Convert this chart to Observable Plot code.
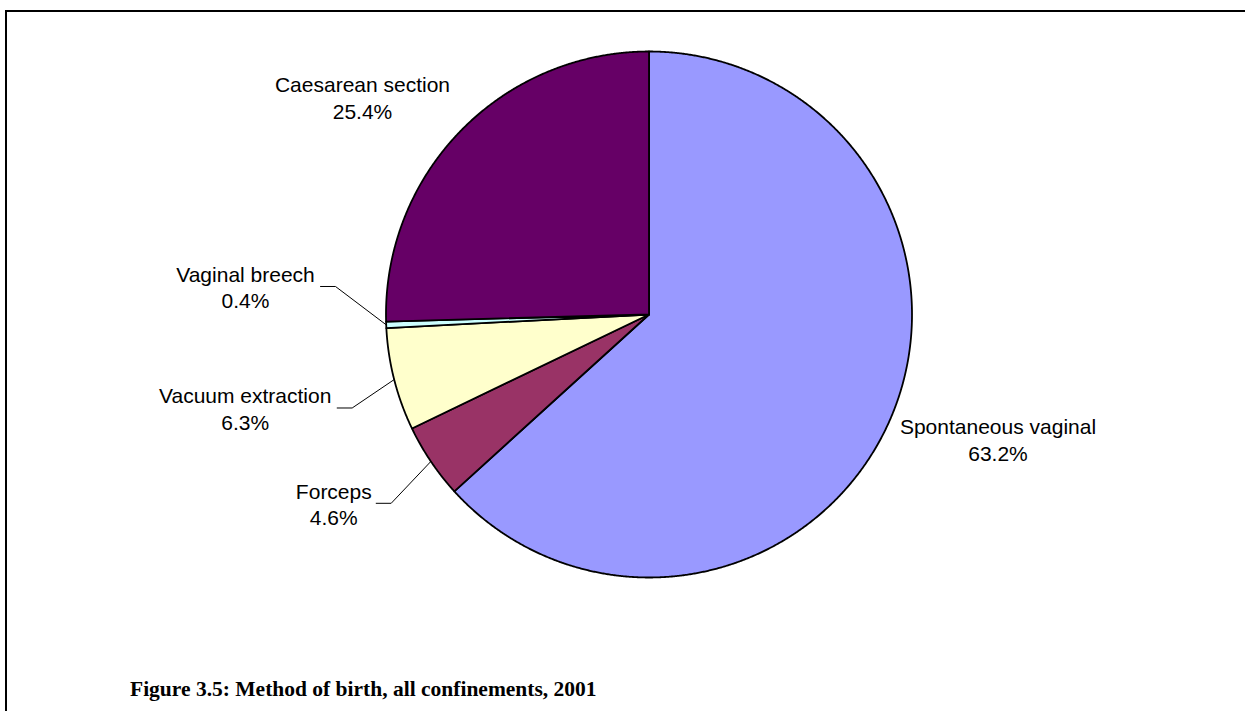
<!DOCTYPE html>
<html><head><meta charset="utf-8">
<script src="https://cdn.jsdelivr.net/npm/d3@7"></script>
<script src="https://cdn.jsdelivr.net/npm/@observablehq/plot@0.6"></script>
<style>
html,body{margin:0;padding:0;background:#fff;overflow:hidden;width:1245px;height:711px;}
#chart{position:absolute;left:0;top:0;}
#frame{position:absolute;left:5px;top:10px;width:1300px;height:800px;border:2px solid #000;box-sizing:border-box;pointer-events:none;}
#title{position:absolute;left:130px;top:679px;font-family:"Liberation Serif",serif;font-weight:bold;font-size:21.5px;line-height:21px;white-space:nowrap;color:#000;}
</style></head><body>
<div id="chart"></div>
<div id="frame"></div>
<div id="title">Figure 3.5: Method of birth, all confinements, 2001</div>
<script>
// ---- data ----
const categories = ["Spontaneous vaginal", "Forceps", "Vacuum extraction", "Vaginal breech", "Caesarean section"];
const values = [63.2, 4.6, 6.3, 0.4, 25.4];
const colors = ["#9999FF", "#993366", "#FFFFCC", "#CCFFFF", "#660066"];
// ---- label layout (in units of the pie radius, centre = 0,0) ----
const labelX = [1.327, -1.1985, -1.5354, -1.5342, -1.0894];
const labelY = [-0.4734, -0.7179, -0.3555, 0.1065, 0.8259];
const leaderEndX = [null, -1.0373, -1.1856, -1.249, null];
const elbowGap = 0.057;

const rows = categories.map((name, i) => ({name, value: values[i], color: colors[i]}));
const arcs = d3.pie().sort(null).value(d => d.value)(rows);

// slice outlines (polygon in unit-circle coords, y up, angle clockwise from 12 o'clock)
const slicePts = [];
arcs.forEach(a => {
  const name = a.data.name;
  slicePts.push({name, x: 0, y: 0});
  const n = Math.max(2, Math.ceil((a.endAngle - a.startAngle) / (Math.PI / 720)));
  for (let k = 0; k <= n; k++) {
    const t = a.startAngle + (a.endAngle - a.startAngle) * k / n;
    slicePts.push({name, x: Math.sin(t), y: Math.cos(t)});
  }
});

// leader lines
const leaderPts = [];
arcs.forEach((a, i) => {
  if (leaderEndX[i] == null) return;
  const name = a.data.name;
  const m = (a.startAngle + a.endAngle) / 2;
  leaderPts.push({name, x: Math.sin(m), y: Math.cos(m)});
  leaderPts.push({name, x: leaderEndX[i] + elbowGap, y: labelY[i]});
  leaderPts.push({name, x: leaderEndX[i], y: labelY[i]});
});

const labels = rows.map((d, i) => ({
  x: labelX[i], y: labelY[i],
  text: d.name + "\n" + d.value.toFixed(1) + "%"
}));

const chart = Plot.plot({
  width: 1245,
  height: 660,
  margin: 0,
  style: {fontFamily: "'Liberation Sans', Arial, sans-serif", background: "transparent", color: "#000"},
  x: {domain: [-1, 1], range: [385.5, 911.5], axis: null},
  y: {domain: [-1, 1], range: [577, 51], axis: null},
  color: {domain: categories, range: colors},
  marks: [
    Plot.line(slicePts, {x: "x", y: "y", z: "name", fill: "name", stroke: "#000", strokeWidth: 1.8, strokeLinejoin: "round", curve: "linear-closed"}),
    Plot.line(leaderPts, {x: "x", y: "y", z: "name", stroke: "#000", strokeWidth: 1}),
    Plot.text(labels, {x: "x", y: "y", text: "text", fontSize: 21, lineHeight: 1.27, fill: "#000", textAnchor: "middle"})
  ]
});
document.getElementById("chart").appendChild(chart);
</script>
</body></html>
